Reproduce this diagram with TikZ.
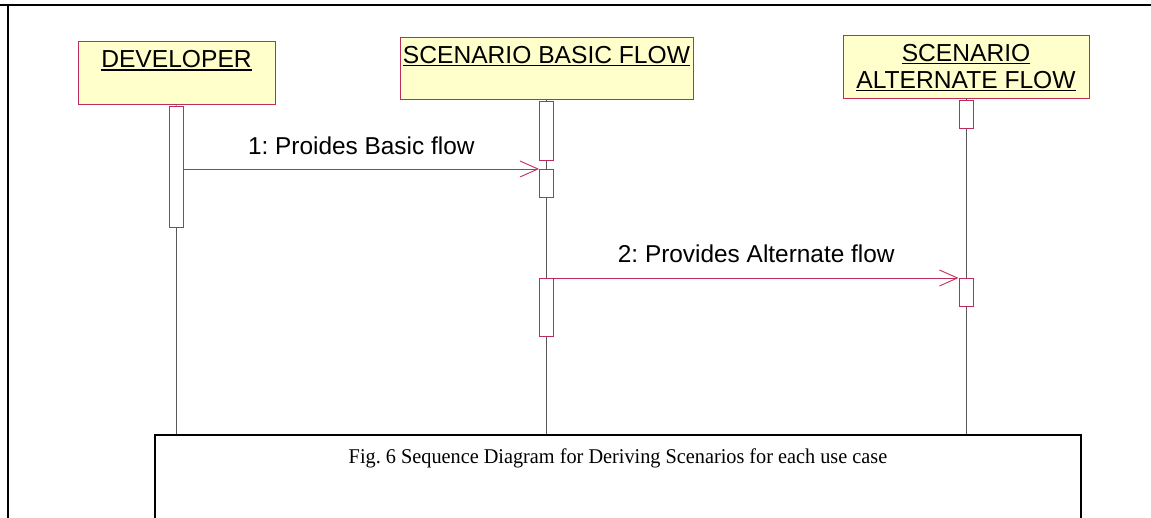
\documentclass[tikz,border=0pt]{standalone}
\usepackage{fontspec}
\setmainfont{Liberation Serif}
\newfontfamily\arialfont{Liberation Sans}
\usetikzlibrary{positioning,arrows.meta}
\frenchspacing

\definecolor{umlred}{RGB}{190,45,90}
\definecolor{umlyellow}{RGB}{255,255,204}
\newcommand{\headul}[1]{\setbox0\hbox{#1}\rlap{\rule[-2.6pt]{\wd0}{1.4pt}}\box0}

\tikzset{
  headbox/.style={draw=umlred, fill=umlyellow, line width=0.9pt, inner sep=0pt},
  headtext/.style={font=\arialfont\fontsize{24.6}{27.3}\selectfont, align=center, inner sep=0pt},
  actbox/.style={draw=umlred, fill=white, line width=0.9pt, minimum width=14, inner sep=0pt, anchor=north},
  lifeline/.style={draw=gray!70!black, line width=0.6pt},
  msg/.style={draw=umlred, line width=0.9pt, -{Straight Barb[length=18pt,width=16pt,line width=0.9pt]}},
  msgtext/.style={font=\arialfont\fontsize{24.4}{27}\selectfont, inner sep=0pt, anchor=base, midway},
}

\begin{document}
\begin{tikzpicture}[x=1pt, y=-1pt]
    \clip (0,0) rectangle (1151,518);
    % frame
    \draw[line width=1.6pt] (0,5) -- (1151,5);
    \draw[line width=1.6pt] (8,5) -- (8,518);

    % objects
    \node[headbox, minimum width=197, minimum height=63] (dev) at (176.5,72.5) {};
    \node[headbox, minimum width=293, minimum height=62] (basic) at (546.5,68) {};
    \node[headbox, minimum width=246, minimum height=63] (alt) at (966,66.5) {};
    \node[headtext, below=10pt of dev.north] (devname) {\headul{DEVELOPER}};
    \node[headtext, below=9.5pt of basic.north] (basicname) {\headul{SCENARIO BASIC FLOW}};
    \node[headtext, below=9.5pt of alt.north] (altname) {\headul{SCENARIO}\\ \headul{ALTERNATE FLOW}};

    % caption box
    \node[draw, line width=1.6pt, minimum width=926, minimum height=120, anchor=north] (cap) at (618,434) {};
    \node[font=\fontsize{21}{24}\selectfont, inner sep=0pt, below=15pt of cap.north] (captext)
        {\scalebox{0.965}[1]{Fig. 6 Sequence Diagram for Deriving Scenarios for each use case}};

    % activations
    \node[actbox, minimum height=121] (dev1) at (176,106) {};
    \node[actbox, minimum height=59] (basic1) at (546.5,101) {};
    \node[actbox, minimum height=28] (basic2) at (546.5,169) {};
    \node[actbox, minimum height=58] (basic3) at (546.5,278) {};
    \node[actbox, minimum height=28] (alt1) at (966,100) {};
    \node[actbox, minimum height=28] (alt2) at (966,278) {};

    % lifelines
    \foreach \a/\b in {dev/dev1, basic/basic1, basic1/basic2, basic2/basic3, alt/alt1, alt1/alt2}
        \draw[lifeline] (\a.south) -- (\b.north);
    \foreach \a in {dev1, basic3, alt2}
        \draw[lifeline] (\a.south) -- (\a.south |- cap.north);

    % messages
    \draw[msg] (dev1.east |- basic2.north) -- node[msgtext, yshift=14pt] {1: Proides Basic flow} (basic2.north west);
    \draw[msg] (basic3.north east) -- node[msgtext, yshift=15pt] {2: Provides Alternate flow} (alt2.north west);
\end{tikzpicture}
\end{document}
